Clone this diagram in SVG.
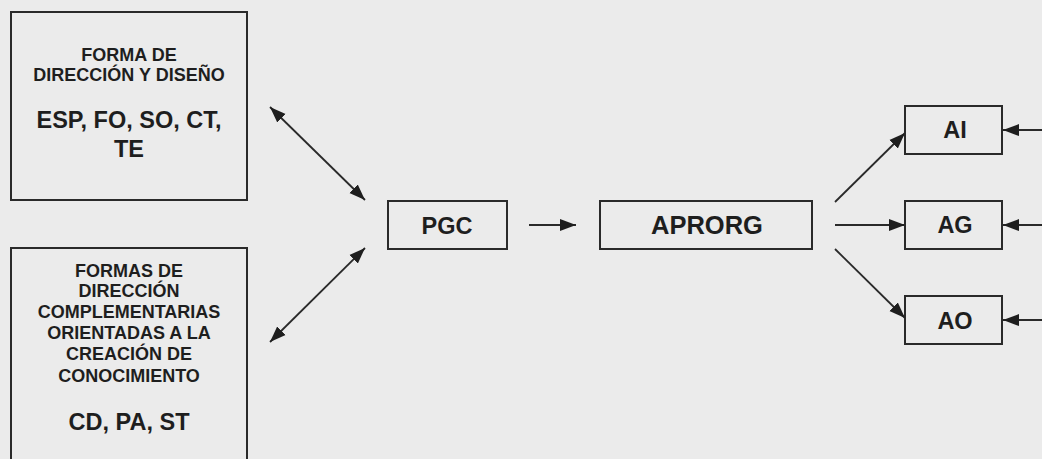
<svg xmlns="http://www.w3.org/2000/svg" width="1042" height="459" viewBox="0 0 1042 459">
  <style>
    .box { fill: none; stroke: #2a2a2a; stroke-width: 2; }
    .t { font-family: "Liberation Sans", Arial, sans-serif; font-weight: bold; fill: #1e1e1e; text-anchor: middle; }
    .s { font-size: 18px; }
    .l { font-size: 23.5px; }
    .xl { font-size: 25.5px; }
    .c { stroke: #2a2a2a; stroke-width: 1.8; fill: none; }
  </style>
  <defs>
    <marker id="ah" markerUnits="userSpaceOnUse" markerWidth="18" markerHeight="14" refX="16" refY="6.5" orient="auto-start-reverse" viewBox="0 0 18 14">
      <path d="M0,0.5 L16,6.5 L0,12.5 Z" fill="#1e1e1e"/>
    </marker>
  </defs>
  <rect width="1042" height="459" fill="#ebebeb"/>

  <g id="node-forma">
    <rect class="box" x="11" y="12" width="236" height="188"/>
    <text class="t s" x="129" y="61">FORMA DE</text>
    <text class="t s" x="129" y="81">DIRECCIÓN Y DISEÑO</text>
    <text class="t l" x="129" y="128">ESP, FO, SO, CT,</text>
    <text class="t l" x="129" y="157">TE</text>
  </g>

  <g id="node-formas">
    <rect class="box" x="11" y="248" width="236" height="230"/>
    <text class="t s" x="129" y="277">FORMAS DE</text>
    <text class="t s" x="129" y="297">DIRECCIÓN</text>
    <text class="t s" x="129" y="318">COMPLEMENTARIAS</text>
    <text class="t s" x="129" y="339">ORIENTADAS A LA</text>
    <text class="t s" x="129" y="360">CREACIÓN DE</text>
    <text class="t s" x="129" y="382">CONOCIMIENTO</text>
    <text class="t l" x="129" y="430">CD, PA, ST</text>
  </g>

  <g id="node-pgc">
    <rect class="box" x="388" y="201" width="119" height="48"/>
    <text class="t l" x="447" y="234">PGC</text>
  </g>

  <g id="node-aprorg">
    <rect class="box" x="600" y="201" width="212" height="48"/>
    <text class="t xl" x="707" y="234">APRORG</text>
  </g>

  <g id="node-ai">
    <rect class="box" x="905" y="106" width="97" height="48"/>
    <text class="t l" x="955" y="138">AI</text>
  </g>

  <g id="node-ag">
    <rect class="box" x="905" y="201" width="97" height="48"/>
    <text class="t l" x="955" y="233">AG</text>
  </g>

  <g id="node-ao">
    <rect class="box" x="905" y="296" width="97" height="48"/>
    <text class="t l" x="955" y="329">AO</text>
  </g>

  <g id="connectors">
    <line class="c" x1="270" y1="107" x2="365" y2="200" marker-start="url(#ah)" marker-end="url(#ah)"/>
    <line class="c" x1="270" y1="342" x2="365" y2="248" marker-start="url(#ah)" marker-end="url(#ah)"/>
    <line class="c" x1="529" y1="225" x2="576" y2="225" marker-end="url(#ah)"/>
    <line class="c" x1="835" y1="202" x2="905" y2="133" marker-end="url(#ah)"/>
    <line class="c" x1="835" y1="225" x2="905" y2="225" marker-end="url(#ah)"/>
    <line class="c" x1="835" y1="249" x2="905" y2="318" marker-end="url(#ah)"/>
    <line class="c" x1="1042" y1="130" x2="1003" y2="130" marker-end="url(#ah)"/>
    <line class="c" x1="1042" y1="225" x2="1003" y2="225" marker-end="url(#ah)"/>
    <line class="c" x1="1042" y1="320" x2="1003" y2="320" marker-end="url(#ah)"/>
  </g>
</svg>
